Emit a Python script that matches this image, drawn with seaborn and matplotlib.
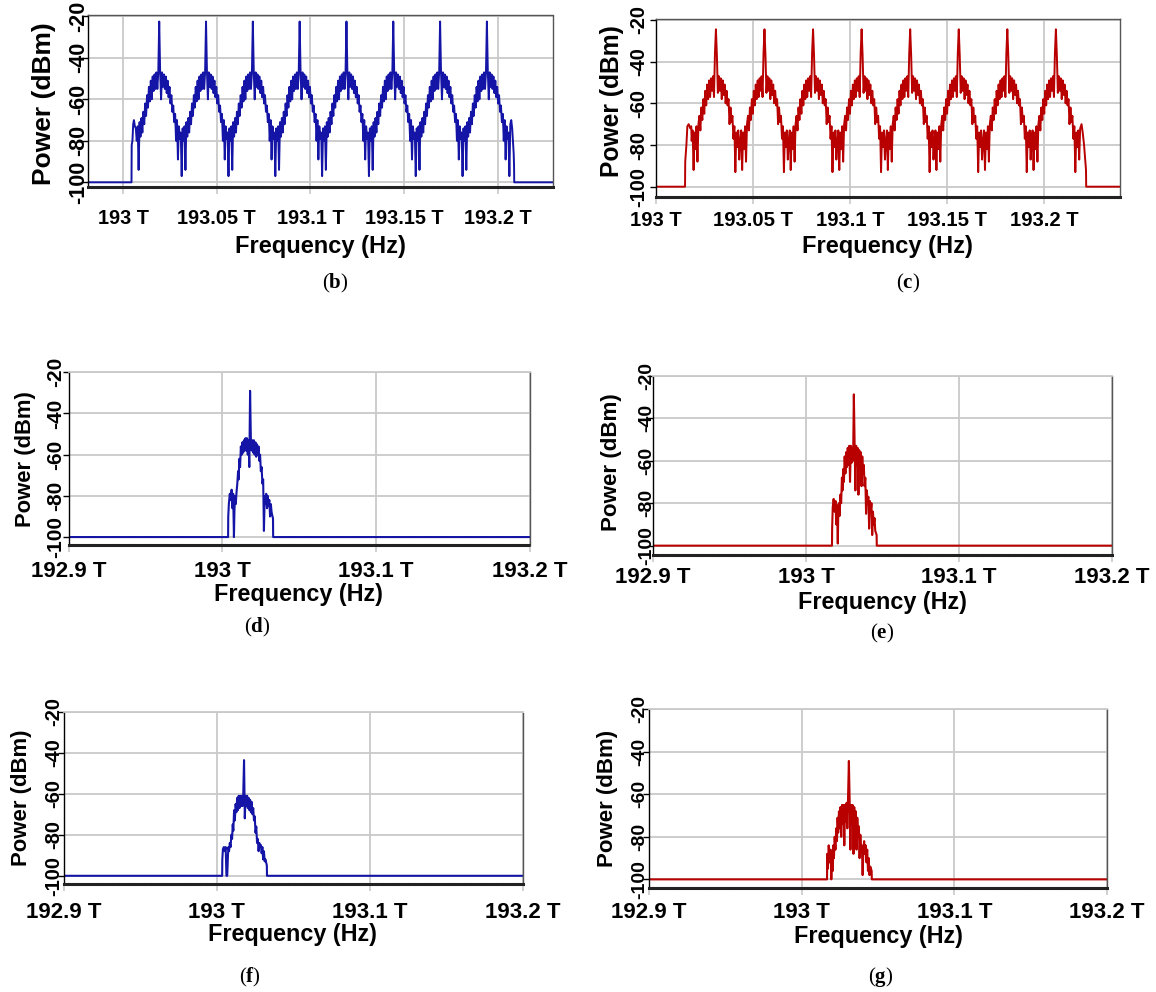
import matplotlib
matplotlib.use("Agg")
import matplotlib.pyplot as plt
import matplotlib.transforms as mtransforms
import pandas as pd
import seaborn as sns

sns.set_theme(style="white")
plt.rcParams['font.family'] = ['Liberation Sans', 'DejaVu Sans']
plt.rcParams['mathtext.fontset'] = 'custom'
plt.rcParams['mathtext.rm'] = 'Liberation Serif'
plt.rcParams['mathtext.bf'] = 'Liberation Serif:bold'

# ------------------------------------------------------------------ data
y_ticks = [-100, -80, -60, -40, -20]
y_tick_labels = ["-100", "-80", "-60", "-40", "-20"]
wide_ticks = [193.0, 193.05, 193.1, 193.15, 193.2]
wide_tick_labels = ["193 T", "193.05 T", "193.1 T", "193.15 T", "193.2 T"]
narrow_ticks = [192.9, 193.0, 193.1, 193.2]
narrow_tick_labels = ["192.9 T", "193 T", "193.1 T", "193.2 T"]

# 8-channel spectra (b, c): carrier frequencies (THz) and the lobe shape around each carrier
b_carrier_thz = [193.0193, 193.0443, 193.0693, 193.0943, 193.1193, 193.1443, 193.1693, 193.1943]
c_carrier_thz = [193.0310, 193.0560, 193.0810, 193.1060, 193.1310, 193.1560, 193.1810, 193.2060]

lobe_offset_ghz = [-12.5, -12.0, -11.5, -11.0, -10.5, -10.0, -9.5, -9.0, -8.5, -8.0,
                   -7.5, -7.0, -6.5, -6.0, -5.5, -5.0, -4.5, -4.0, -3.5, -3.0,
                   -2.5, -2.0, -1.5, -1.0, -0.5, 0.0, 0.5, 1.0, 1.5, 2.0,
                   2.5, 3.0, 3.5, 4.0, 4.5, 5.0, 5.5, 6.0, 6.5, 7.0,
                   7.5, 8.0, 8.5, 9.0, 9.5, 10.0, 10.5, 11.0, 11.5, 12.0]
b_lobe_dbm = [-74, -80, -73, -94, -71, -78, -69, -76, -66, -72,
              -62, -68, -58, -64, -54, -61, -51, -60, -49, -56,
              -48, -55, -47, -55, -47, -22.5, -47, -60, -47, -54,
              -48, -55, -49, -57, -51, -59, -54, -62, -58, -66,
              -63, -71, -67, -80, -70, -89, -73, -79, -76, -97]
c_lobe_dbm = [-78, -73, -92, -74, -82, -71, -88, -70, -66, -73,
              -62, -68, -58, -65, -54, -61, -51, -58, -49, -57,
              -48, -54, -47, -57, -36, -24.5, -37, -55, -47, -54,
              -48, -58, -49, -56, -51, -60, -54, -61, -58, -70,
              -62, -69, -66, -77, -71, -93, -74, -81, -73, -87]

b_left_thz = [192.975, 193.0045, 193.0046, 193.0050, 193.0054, 193.0058, 193.0063]
b_left_dbm = [-100, -100, -82, -80, -72, -70, -73]
b_right_thz = [193.2068, 193.2073, 193.2078, 193.2083, 193.2086, 193.2088, 193.2089, 193.235]
b_right_dbm = [-72, -70, -74, -81, -86, -92, -100, -100]
c_left_thz = [192.995, 193.0151, 193.0152, 193.0158, 193.0163, 193.0170, 193.0178, 193.0183]
c_left_dbm = [-100, -100, -88, -80, -71, -70, -72, -71]
c_right_thz = [193.2185, 193.2192, 193.2198, 193.2205, 193.2210, 193.2215, 193.2216, 193.245]
c_right_dbm = [-72, -70, -74, -80, -86, -92, -100, -100]

# single-channel spectra (d-g)
single_span_thz = [192.9, 193.2]
single_floor_dbm = -100
d_carrier_thz = 193.0180
e_carrier_thz = 193.0312
f_carrier_thz = 193.0180
g_carrier_thz = 193.0310
single_offset_ghz = [-14.3, -14.2, -13.8, -13.2, -12.6, -12.0, -11.5, -11.0, -10.5, -10.2,
                     -9.8, -9.3, -8.8, -8.3, -7.8, -7.4, -7.0, -6.5, -6.0, -5.5,
                     -5.0, -4.5, -4.0, -3.5, -3.0, -2.5, -2.0, -1.5, -1.0, -0.5,
                     0.0, 0.5, 1.0, 1.5, 2.0, 2.5, 3.0, 3.5, 4.0, 4.5,
                     5.0, 5.5, 6.0, 6.5, 7.0, 7.5, 8.0, 8.5, 9.0, 9.5,
                     10.0, 10.5, 11.0, 11.5, 12.0, 12.5, 13.0, 13.5, 14.0, 14.9, 15.0]
d_dbm = [-100, -90, -84, -79, -82, -77, -86, -79, -100, -88,
         -80, -84, -78, -74, -68, -72, -62, -66, -56, -60,
         -54, -59, -53, -58, -52, -58, -52, -60, -53, -66,
         -29, -52, -58, -53, -59, -53, -60, -54, -61, -55,
         -60, -56, -63, -60, -68, -66, -74, -72, -97, -80,
         -84, -79, -86, -80, -85, -82, -90, -84, -88, -91, -100]
e_dbm = [-100, -92, -82, -78, -84, -79, -90, -81, -99, -86,
         -80, -86, -76, -80, -68, -74, -64, -70, -58, -66,
         -56, -63, -54, -62, -53, -70, -53, -61, -54, -60,
         -28.8, -52, -74, -53, -62, -54, -76, -55, -63, -56,
         -72, -58, -66, -62, -72, -68, -85, -74, -80, -77,
         -92, -79, -84, -80, -95, -84, -90, -87, -93, -95, -100]
f_dbm = [-100, -92, -87, -86, -88, -86, -100, -100, -90, -86,
         -88, -84, -86, -80, -82, -75, -78, -68, -73, -65,
         -69, -62, -68, -61, -67, -61, -66, -61, -66, -60,
         -43.6, -72, -61, -66, -61, -67, -62, -68, -63, -69,
         -64, -70, -67, -73, -71, -79, -76, -84, -82, -88,
         -84, -86, -85, -89, -86, -92, -88, -93, -92, -95, -100]
g_dbm = [-100, -88, -95, -84, -92, -86, -100, -88, -96, -84,
         -90, -80, -86, -76, -82, -71, -78, -68, -76, -66,
         -80, -65, -74, -65, -84, -65, -73, -64, -76, -60,
         -44.3, -63, -86, -65, -74, -65, -88, -66, -76, -68,
         -86, -71, -79, -75, -90, -79, -86, -84, -98, -86,
         -82, -88, -84, -92, -86, -96, -90, -98, -94, -96, -100]


def multi_channel(carriers, offsets, values, left_x, left_y, right_x, right_y):
    xs, ys = list(left_x), list(left_y)
    for c in carriers:
        xs += [c + o * 1e-3 for o in offsets]
        ys += list(values)
    xs += list(right_x)
    ys += list(right_y)
    return pd.DataFrame({"freq": xs, "power": ys})


def single_channel(carrier, offsets, values):
    xs = [single_span_thz[0]] + [carrier + o * 1e-3 for o in offsets] + [single_span_thz[1]]
    ys = [single_floor_dbm] + list(values) + [single_floor_dbm]
    return pd.DataFrame({"freq": xs, "power": ys})


spectra = {
    "b": multi_channel(b_carrier_thz, lobe_offset_ghz, b_lobe_dbm, b_left_thz, b_left_dbm, b_right_thz, b_right_dbm),
    "c": multi_channel(c_carrier_thz, lobe_offset_ghz, c_lobe_dbm, c_left_thz, c_left_dbm, c_right_thz, c_right_dbm),
    "d": single_channel(d_carrier_thz, single_offset_ghz, d_dbm),
    "e": single_channel(e_carrier_thz, single_offset_ghz, e_dbm),
    "f": single_channel(f_carrier_thz, single_offset_ghz, f_dbm),
    "g": single_channel(g_carrier_thz, single_offset_ghz, g_dbm),
}

# ------------------------------------------------------------------ style
W, H = 1156, 992
BLUE = "#1414a6"
RED = "#b80000"
GRID = "#c9c9c9"
SANS = ["Liberation Sans", "DejaVu Sans"]

panels = [
    dict(key="b", rect=(87.5, 15.3, 553, 187.3), xlim=(192.981, 193.2296), ylim=(-102.4, -19.5),
         wide=True, color=BLUE, lw=1.4, xts=14.3, yts=15.5, xls=17, yls=19, xpad=10.9, ypad=-5.7,
         ylab=(44, 104), xlab=(320, 246), cap=(335, 283), top_dotted=True),
    dict(key="c", rect=(655.7, 19.3, 1120, 196.7), xlim=(193.0, 193.239), ylim=(-104.8, -19.7),
         wide=True, color=RED, lw=1.4, xts=14.6, yts=14.5, xls=17, yls=17.7, xpad=5.2, ypad=0.9,
         ylab=(612, 101), xlab=(887, 247), cap=(908, 283), top_dotted=True),
    dict(key="d", rect=(68.6, 372.3, 530, 545.3), xlim=(192.9, 193.2), ylim=(-104.0, -20.0),
         wide=False, color=BLUE, lw=1.5, xts=16, yts=15, xls=16.8, yls=15.8, xpad=6.4, ypad=-1.8,
         ylab=(26, 459), xlab=(298, 595), cap=(257, 627), top_dotted=False),
    dict(key="e", rect=(653.2, 375.7, 1112, 555), xlim=(192.9, 193.2), ylim=(-104.4, -20.0),
         wide=False, color=RED, lw=1.5, xts=16, yts=14, xls=16.8, yls=16.1, xpad=3.5, ypad=-6.2,
         ylab=(611, 462), xlab=(882, 603), cap=(882, 633), top_dotted=False),
    dict(key="f", rect=(63.5, 711.7, 522.5, 884), xlim=(192.9, 193.2), ylim=(-104.0, -20.0),
         wide=False, color=BLUE, lw=1.5, xts=16, yts=14.5, xls=16.8, yls=15.9, xpad=7.8, ypad=-4.2,
         ylab=(22, 798), xlab=(292, 935), cap=(250, 977), top_dotted=False),
    dict(key="g", rect=(648.8, 709.3, 1107, 888.3), xlim=(192.9, 193.2), ylim=(-104.2, -20.0),
         wide=False, color=RED, lw=1.5, xts=16, yts=14, xls=16.8, yls=16, xpad=4.7, ypad=-4.2,
         ylab=(607, 798), xlab=(878, 937), cap=(881, 977), top_dotted=False),
]

fig = plt.figure(figsize=(W / 100, H / 100), dpi=100)
pix = mtransforms.IdentityTransform()

for p in panels:
    l, t, r, b = p["rect"]
    ax = fig.add_axes([l / W, 1 - b / H, (r - l) / W, (b - t) / H])
    df = spectra[p["key"]]
    sns.lineplot(data=df, x="freq", y="power", ax=ax, color=p["color"], lw=p["lw"],
                 estimator=None, sort=False, legend=False)
    ax.set_xlim(*p["xlim"])
    ax.set_ylim(*p["ylim"])
    ticks = wide_ticks if p["wide"] else narrow_ticks
    tlabels = wide_tick_labels if p["wide"] else narrow_tick_labels
    ax.set_xticks(ticks, tlabels)
    ax.set_yticks(y_ticks, y_tick_labels)
    ax.set_axisbelow(True)
    ax.grid(True, color=GRID, lw=1.3, ls="-")

    ax.tick_params(axis="x", direction="out", length=5, width=1.2, color=GRID,
                   pad=p["xpad"], bottom=True)
    ax.tick_params(axis="y", direction="out", length=4.5, width=1.0, color="black",
                   pad=p["ypad"], left=True)
    for lab in ax.get_xticklabels():
        lab.set_fontfamily(SANS)
        lab.set_fontsize(p["xts"])
        lab.set_fontweight("bold")
        lab.set_color("black")
    for lab in ax.get_yticklabels():
        lab.set_fontfamily(SANS)
        lab.set_fontsize(p["yts"])
        lab.set_fontweight("bold")
        lab.set_rotation(90)
        lab.set_va("center")
        lab.set_ha("right")
        lab.set_color("black")

    ax.set_xlabel("Frequency (Hz)", fontfamily=SANS, fontsize=p["xls"],
                  fontweight="bold", color="black")
    ax.xaxis.set_label_coords(p["xlab"][0], H - p["xlab"][1], transform=pix)
    ax.xaxis.label.set_va("center")
    ax.xaxis.label.set_ha("center")
    ax.set_ylabel("Power (dBm)", fontfamily=SANS, fontsize=p["yls"], fontweight="bold",
                  color="black")
    ax.yaxis.set_label_coords(p["ylab"][0], H - p["ylab"][1], transform=pix)
    ax.yaxis.label.set_va("center")
    ax.yaxis.label.set_ha("center")
    ax.yaxis.label.set_rotation_mode("anchor")

    ax.spines["left"].set_color("black")
    ax.spines["left"].set_linewidth(1.0)
    ax.spines["bottom"].set_color("#222222")
    ax.spines["bottom"].set_linewidth(2.2)
    ax.spines["bottom"].set_linestyle((0, (1, 0.8)))
    ax.spines["right"].set_color("#555555")
    ax.spines["right"].set_linewidth(1.0)
    ax.spines["right"].set_linestyle((0, (1, 1)))
    if p["top_dotted"]:
        ax.spines["top"].set_color("#555555")
        ax.spines["top"].set_linewidth(1.0)
        ax.spines["top"].set_linestyle((0, (1, 1)))
    else:
        ax.spines["top"].set_color(GRID)
        ax.spines["top"].set_linewidth(1.3)

    cx, cy = p["cap"]
    fig.text(cx / W, 1 - cy / H, "($\\mathbf{%s}$)" % p["key"], ha="center", va="center",
             fontsize=15, fontfamily=["Liberation Serif", "DejaVu Serif"], color="black")

fig.savefig("out.png", dpi=100)
